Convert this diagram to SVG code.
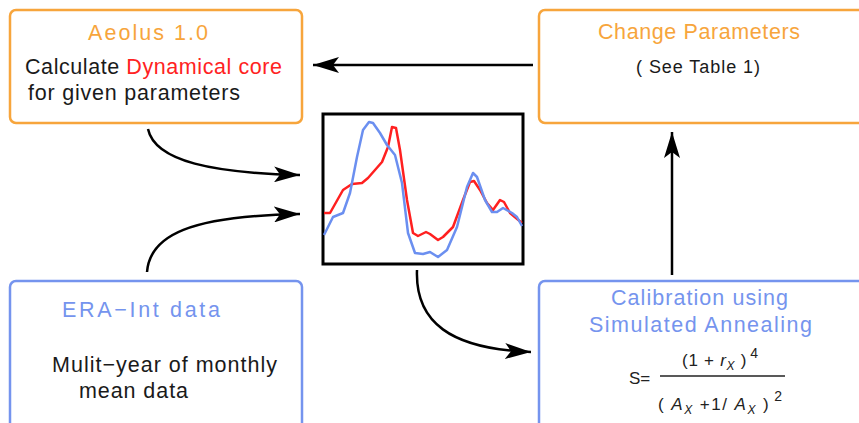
<svg xmlns="http://www.w3.org/2000/svg" width="859" height="423" viewBox="0 0 859 423">
<style>
.box{fill:#fff;stroke-width:2.5}
.or{stroke:#f7a53c}
.bl{stroke:#7594ee}
.t{font-family:"Liberation Sans",Arial,sans-serif;font-size:21.5px;fill:#1a1a1a}
.to{fill:#f7a53c}
.tb{fill:#7594ee}
.tr{fill:#ff2222}
.f{font-family:"Liberation Sans",Arial,sans-serif;font-size:17px;fill:#222}
.conn{fill:none;stroke:#000;stroke-width:2.5}
</style>
<defs>
<marker id="ah" viewBox="0 0 26 16" refX="26" refY="8" markerWidth="26" markerHeight="16" markerUnits="userSpaceOnUse" orient="auto">
<path d="M0,0 L26,8 L0,16 L6,8 z" fill="#000"/>
</marker>
</defs>
<rect width="859" height="423" fill="#fff"/>

<g id="aeolus">
<rect class="box or" x="10" y="10" width="292" height="113" rx="6"/>
<text class="t to" x="88" y="40" textLength="120" lengthAdjust="spacing">Aeolus 1.0</text>
<text class="t" x="25" y="74" textLength="257" lengthAdjust="spacing">Calculate <tspan class="tr">Dynamical core</tspan></text>
<text class="t" x="28" y="100" textLength="212" lengthAdjust="spacing">for given parameters</text>
</g>

<g id="change-parameters">
<rect class="box or" x="539" y="10" width="330" height="113" rx="6"/>
<text class="t to" x="598" y="39" textLength="202" lengthAdjust="spacing">Change Parameters</text>
<text class="t" x="636" y="73" style="font-size:18px" textLength="124" lengthAdjust="spacing">( See Table 1)</text>
</g>

<g id="era-int">
<rect class="box bl" x="10" y="281" width="292" height="160" rx="6"/>
<text class="t tb" x="62" y="317" textLength="158" lengthAdjust="spacing">ERA−Int data</text>
<text class="t" x="52" y="372" textLength="225" lengthAdjust="spacing">Mulit−year of monthly</text>
<text class="t" x="79" y="398" textLength="109" lengthAdjust="spacing">mean data</text>
</g>

<g id="calibration">
<rect class="box bl" x="539" y="281" width="330" height="160" rx="6"/>
<text class="t tb" x="611" y="305" textLength="177" lengthAdjust="spacing">Calibration using</text>
<text class="t tb" x="589" y="332" textLength="223" lengthAdjust="spacing">Simulated Annealing</text>
<text class="f" x="629" y="384">S=</text>
<line x1="660" y1="376" x2="785" y2="376" stroke="#222" stroke-width="1.5"/>
<text class="f" x="682" y="366" textLength="76" lengthAdjust="spacing">(1 + <tspan font-style="italic">r</tspan><tspan font-style="italic" font-size="12" dy="4">X</tspan><tspan dy="-4"> )</tspan><tspan font-size="14" dy="-8" dx="3">4</tspan></text>
<text class="f" x="658" y="410" textLength="124" lengthAdjust="spacing">( <tspan font-style="italic">A</tspan><tspan font-style="italic" font-size="12" dy="4">X</tspan><tspan dy="-4">  +1/ </tspan><tspan font-style="italic">A</tspan><tspan font-style="italic" font-size="12" dy="4">X</tspan><tspan dy="-4"> )</tspan><tspan font-size="14" dy="-9" dx="4">2</tspan></text>
</g>

<g id="plot">
<rect x="323" y="114" width="200" height="150" fill="#fff" stroke="#000" stroke-width="3"/>
<polyline fill="none" stroke="#ff2020" stroke-width="2.5" stroke-linejoin="round" points="324,213 330,213 343,190 352,184 362,183 368,178 382,162 388,147 392,127 396,128 400,150 407,200 413,233 418,236 426,232 430,234 438,240 443,237 453,227 463,200 470,182 474,181 480,190 487,203 493,210 500,200 504,202 510,213 522,223"/>
<polyline fill="none" stroke="#6b8ff0" stroke-width="2.5" stroke-linejoin="round" points="324,235 333,217 343,213 350,193 357,157 363,130 369,122 373,123 380,133 387,145 395,155 402,183 408,233 415,253 423,254 430,252 438,257 447,250 457,227 467,187 473,173 477,177 485,200 492,212 497,212 503,208 512,213 517,217 522,226"/>
</g>

<g id="connectors">
<path class="conn" d="M533,65 L313,65" marker-end="url(#ah)"/>
<path class="conn" d="M672,275 L672,132" marker-end="url(#ah)"/>
<path class="conn" d="M148,129 C155,162 215,173 300,175" marker-end="url(#ah)"/>
<path class="conn" d="M147,272 C150,235 190,216 300,214" marker-end="url(#ah)"/>
<path class="conn" d="M417,270 C415,322 450,349 531,352" marker-end="url(#ah)"/>
</g>
</svg>
